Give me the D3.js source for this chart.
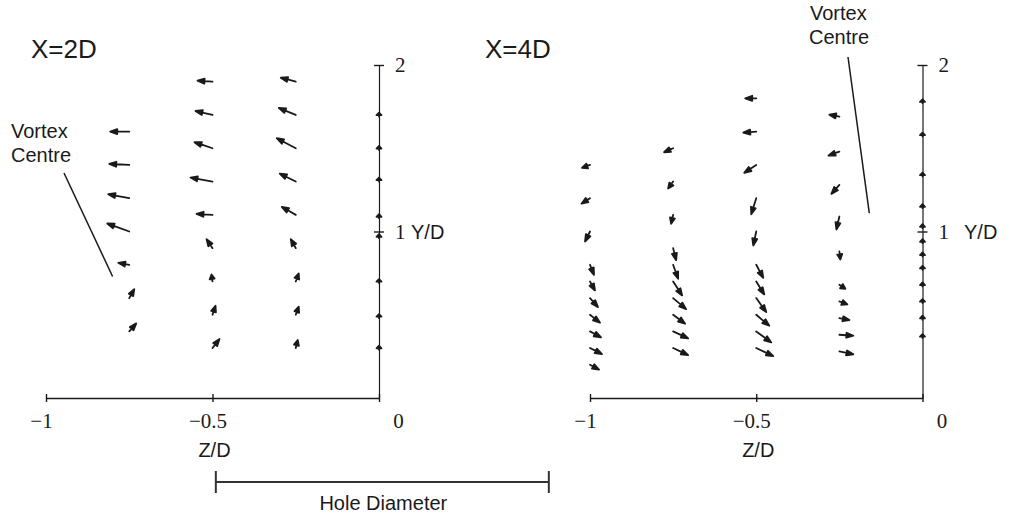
<!DOCTYPE html>
<html>
<head>
<meta charset="utf-8">
<script src="https://cdn.jsdelivr.net/npm/d3@7"></script>
<style>
  html, body { margin: 0; padding: 0; background: #fff; }
  svg { display: block; }
</style>
</head>
<body>
<svg id="chart" width="1010" height="517"></svg>
<script>
// Secondary-flow vectors in the cross plane behind the hole.
// Each row: [Y/D of arrow tail, W, V] (W: spanwise, V: vertical velocity).
const zTicks = [-1, -0.5, 0];
const yTicks = [1, 2];

// ---- X = 2D ----
const x2dZm075 = [
  [1.6, -0.19, 0.00], [1.4, -0.20, 0.01], [1.2, -0.21, 0.04], [1.0, -0.22, 0.08],
  [0.8, -0.11, 0.02], [0.6, 0.05, 0.09], [0.4, 0.07, 0.08]
];
const x2dZm050 = [
  [1.9, -0.15, 0.01], [1.7, -0.17, 0.04], [1.5, -0.18, 0.06], [1.3, -0.22, 0.04],
  [1.1, -0.16, 0.01], [0.9, -0.06, 0.09], [0.7, -0.01, 0.07], [0.5, 0.03, 0.09],
  [0.3, 0.07, 0.09]
];
const x2dZm025 = [
  [1.9, -0.15, 0.04], [1.7, -0.17, 0.07], [1.5, -0.19, 0.10], [1.3, -0.16, 0.08],
  [1.1, -0.14, 0.08], [0.9, -0.05, 0.09], [0.7, 0.03, 0.08], [0.5, 0.03, 0.08],
  [0.3, 0.02, 0.08]
];
const x2dZ000 = [
  [1.69, 0, 0.04], [1.49, 0, 0.04], [1.30, 0, 0.04], [1.08, 0, 0.04],
  [0.96, 0, 0.04], [0.69, 0, 0.04], [0.48, 0, 0.04], [0.29, 0, 0.04]
];

// ---- X = 4D ----
const x4dZm100 = [
  [1.4, -0.08, -0.03], [1.2, -0.085, -0.055], [1.0, -0.05, -0.10], [0.8, 0.04, -0.10],
  [0.7, 0.05, -0.09], [0.6, 0.08, -0.09], [0.5, 0.10, -0.08], [0.4, 0.11, -0.06],
  [0.3, 0.12, -0.06], [0.2, 0.09, -0.05]
];
const x4dZm075 = [
  [1.5, -0.09, -0.04], [1.3, -0.05, -0.07], [1.1, -0.02, -0.09], [0.9, 0.03, -0.12],
  [0.8, 0.05, -0.14], [0.7, 0.09, -0.14], [0.6, 0.13, -0.11], [0.5, 0.12, -0.09],
  [0.4, 0.15, -0.07], [0.3, 0.15, -0.07]
];
const x4dZm050 = [
  [1.8, -0.11, 0.00], [1.6, -0.13, -0.01], [1.4, -0.12, -0.08], [1.2, -0.05, -0.16],
  [1.0, -0.03, -0.14], [0.8, 0.07, -0.13], [0.7, 0.08, -0.13], [0.6, 0.10, -0.14],
  [0.5, 0.13, -0.11], [0.4, 0.15, -0.11], [0.3, 0.17, -0.08]
];
const x4dZm025 = [
  [1.69, -0.10, 0.02], [1.48, -0.11, -0.04], [1.28, -0.08, -0.09], [1.09, -0.03, -0.13],
  [0.88, 0.01, -0.08], [0.68, 0.06, -0.04], [0.58, 0.08, -0.03], [0.48, 0.10, -0.02],
  [0.38, 0.14, -0.01], [0.28, 0.14, -0.03]
];
const x4dZ000 = [
  [1.77, 0, 0.04], [1.57, 0, 0.04], [1.33, 0, 0.04], [1.14, 0, 0.04],
  [1.02, 0, 0.04], [0.93, 0, 0.04], [0.85, 0, 0.04], [0.77, 0, 0.04],
  [0.67, 0, 0.04], [0.57, 0, 0.04], [0.47, 0, 0.04], [0.36, 0, 0.04]
];

// Vortex centre locations [Z/D, Y/D]
const vortex2D = [-0.80, 0.73];
const vortex4D = [-0.16, 1.11];

// Hole diameter marker (in Z/D units of the first panel)
const holeSpan = [-0.49, 0.51];

const panels = [
  {
    title: "X=2D",
    columns: [
      { z: -0.75, rows: x2dZm075 }, { z: -0.5, rows: x2dZm050 },
      { z: -0.25, rows: x2dZm025 }, { z: 0, rows: x2dZ000 }
    ],
    vortex: vortex2D,
    xRange: [46, 379], yRange: [398, 65],
    titlePos: [31, 58],
    vortexLabel: [11, 138], leaderFrom: [64, 173],
    yLabelX: 411
  },
  {
    title: "X=4D",
    columns: [
      { z: -1, rows: x4dZm100 }, { z: -0.75, rows: x4dZm075 },
      { z: -0.5, rows: x4dZm050 }, { z: -0.25, rows: x4dZm025 }, { z: 0, rows: x4dZ000 }
    ],
    vortex: vortex4D,
    xRange: [590, 922.5], yRange: [398, 65],
    titlePos: [485, 58],
    vortexLabel: [810, 20], leaderFrom: [848, 57],
    yLabelX: 964
  }
];

const svg = d3.select("#chart");
const ink = "#1a1a1a";
const sans = "'Liberation Sans', Arial, Helvetica, sans-serif";
const serif = "'Liberation Serif', 'Times New Roman', serif";

// pixels per unit velocity
const vScale = d3.scaleLinear().domain([0, 1]).range([0, 100]);

const fmt = d => d < 0 ? "\u2212" + Math.abs(d) : String(d);

// shaft plus a filled, slightly elongated head
function arrowPath(x0, y0, dx, dy) {
  const len = Math.hypot(dx, dy);
  if (len < 0.01) return "";
  const ux = dx / len, uy = dy / len;
  const hl = Math.min(7, len * 0.65);
  const hw = 2.5;
  const x1 = x0 + dx, y1 = y0 + dy;
  const bx = x1 - ux * hl, by = y1 - uy * hl;
  return `M${x0},${y0}L${bx},${by}` +
    `M${x1},${y1}L${bx - uy * hw},${by + ux * hw}L${bx + uy * hw},${by - ux * hw}Z`;
}

panels.forEach((p, i) => {
  const x = d3.scaleLinear().domain([-1, 0]).range(p.xRange);
  const y = d3.scaleLinear().domain([0, 2]).range(p.yRange);
  const g = svg.append("g");

  // horizontal Z/D axis
  const xAxis = g.append("g")
    .attr("transform", `translate(0,${y(0)})`)
    .call(d3.axisBottom(x).tickValues(zTicks).tickFormat(fmt)
      .tickSizeInner(4).tickSizeOuter(0).tickPadding(11));
  xAxis.selectAll(".tick line").attr("y1", -4).attr("stroke", ink).attr("stroke-width", 1.4);
  xAxis.select(".domain").attr("stroke", ink).attr("stroke-width", 1.6);
  xAxis.selectAll(".tick text")
    .attr("font-family", serif).attr("font-size", 21).attr("fill", ink)
    .attr("dx", d => d === 0 ? 19 : -5);

  // vertical Y/D axis on the symmetry plane
  const yAxis = g.append("g")
    .attr("transform", `translate(${x(0)},0)`)
    .call(d3.axisRight(y).tickValues(yTicks).tickFormat(fmt)
      .tickSizeInner(5).tickSizeOuter(0).tickPadding(11));
  yAxis.selectAll(".tick line").attr("x1", -5).attr("stroke", ink).attr("stroke-width", 1.4);
  yAxis.select(".domain").attr("stroke", ink).attr("stroke-width", 1.2);
  yAxis.selectAll(".tick text")
    .attr("font-family", serif).attr("font-size", 21).attr("fill", ink)
    .attr("text-anchor", "start");

  // axis titles
  g.append("text").attr("x", d3.mean(p.xRange) + 2).attr("y", 457)
    .attr("text-anchor", "middle").attr("font-family", sans).attr("font-size", 20)
    .attr("fill", ink).text("Z/D");
  g.append("text").attr("x", p.yLabelX).attr("y", y(1)).attr("dy", "0.36em")
    .attr("font-family", sans).attr("font-size", 20).attr("fill", ink).text("Y/D");

  // station title
  g.append("text").attr("x", p.titlePos[0]).attr("y", p.titlePos[1])
    .attr("font-family", sans).attr("font-size", 26).attr("fill", ink).text(p.title);

  // velocity vectors
  const pts = p.columns.flatMap(c => c.rows.map(r => ({ z: c.z, y: r[0], w: r[1], v: r[2] })));
  g.append("g").selectAll("path").data(pts).join("path")
    .attr("d", d => arrowPath(x(d.z), y(d.y), vScale(d.w), -vScale(d.v)))
    .attr("fill", ink).attr("stroke", ink)
    .attr("stroke-width", 1.8).attr("stroke-linejoin", "round").attr("stroke-linecap", "round");

  // vortex centre annotation
  const lab = g.append("text").attr("font-family", sans).attr("font-size", 20).attr("fill", ink);
  lab.append("tspan").attr("x", p.vortexLabel[0]).attr("y", p.vortexLabel[1]).text("Vortex");
  lab.append("tspan").attr("x", p.vortexLabel[0] - (i === 1 ? 1 : 0)).attr("dy", 23.5).text("Centre");
  g.append("line")
    .attr("x1", p.leaderFrom[0]).attr("y1", p.leaderFrom[1])
    .attr("x2", x(p.vortex[0])).attr("y2", y(p.vortex[1]))
    .attr("stroke", ink).attr("stroke-width", 1.5);

  // hole diameter scale bar under the first panel
  if (i === 0) {
    const hb = svg.append("g");
    const hx0 = x(holeSpan[0]), hx1 = x(holeSpan[1]), hy = 482;
    hb.append("line").attr("x1", hx0).attr("x2", hx1).attr("y1", hy).attr("y2", hy)
      .attr("stroke", "#333").attr("stroke-width", 2);
    [hx0, hx1].forEach(hx => hb.append("line").attr("x1", hx).attr("x2", hx)
      .attr("y1", hy - 11).attr("y2", hy + 11).attr("stroke", "#333").attr("stroke-width", 2));
    hb.append("text").attr("x", (hx0 + hx1) / 2 + 1).attr("y", 510).attr("text-anchor", "middle")
      .attr("font-family", sans).attr("font-size", 20).attr("fill", ink).text("Hole Diameter");
  }
});
</script>
</body>
</html>
